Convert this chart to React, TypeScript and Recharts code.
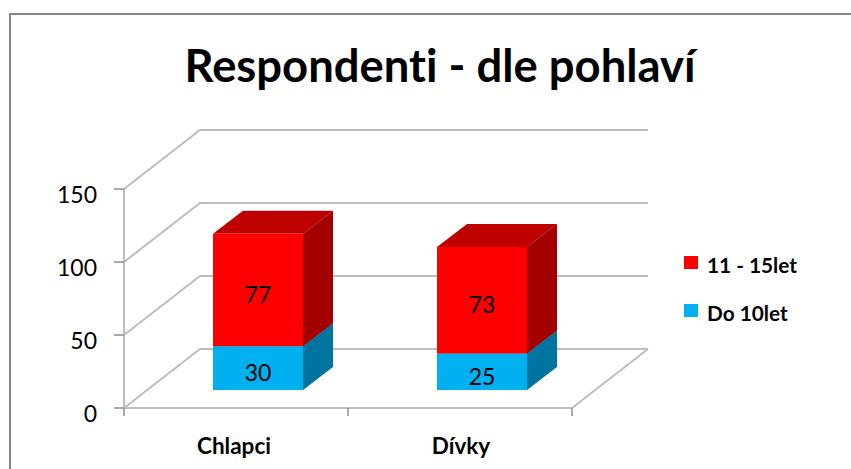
import React from 'react';
import { BarChart, Bar, XAxis, YAxis, CartesianGrid, Legend, LabelList } from 'recharts';

const categories = ['Chlapci', 'Dívky'];
const do10let = [30, 25];
const let11to15 = [77, 73];
const yTicks = [0, 50, 100, 150];
const chartTitle = 'Respondenti - dle pohlaví';
const seriesNames = { young: 'Do 10let', old: '11 - 15let' };

const rows = categories.map((name, i) => ({ name, young: do10let[i], old: let11to15[i] }));

const W = 851, H = 469;
const PLOT = { left: 124, right: 279, top: 189, bottom: 61 };
const M = { left: PLOT.left - 60, right: PLOT.right - 150, top: PLOT.top, bottom: PLOT.bottom - 30 };
const BAND = (W - PLOT.left - PLOT.right) / categories.length;
const WALL_DX = 76, WALL_DY = -59;
const BAR_DX = 22, BAR_DY = -18;
const DEPTH_DX = 30, DEPTH_DY = -23;
const GRID = '#bdbdbd';
const FONT = 'Lato, sans-serif';

const box = (fill: string, side: string, top: string) => (p: any) => {
  const x = p.x + BAR_DX, y = p.y + BAR_DY, w = p.width, h = p.height;
  return (
    <g>
      <polygon points={`${x},${y} ${x + DEPTH_DX},${y + DEPTH_DY} ${x + w + DEPTH_DX},${y + DEPTH_DY} ${x + w},${y}`} fill={top} />
      <polygon points={`${x + w},${y} ${x + w + DEPTH_DX},${y + DEPTH_DY} ${x + w + DEPTH_DX},${y + h + DEPTH_DY} ${x + w},${y + h}`} fill={side} />
      <rect x={x} y={y} width={w} height={h} fill={fill} />
    </g>
  );
};

const gridLine = (p: any) => {
  const { x1, x2, y1 } = p;
  return (
    <g key={`g-${y1}`}>
      <polyline
        points={`${x1},${y1} ${x1 + WALL_DX},${y1 + WALL_DY} ${x2 + WALL_DX},${y1 + WALL_DY}`}
        fill="none" stroke={GRID} strokeWidth={2}
      />
    </g>
  );
};

const barLabel = (p: any) => (
  <text
    x={p.x + BAR_DX + p.width / 2}
    y={p.y + BAR_DY + p.height / 2 + 4}
    textAnchor="middle" dominantBaseline="central"
    fontFamily={FONT} fontSize={23} fill="#000"
  >
    {p.value}
  </text>
);

const XTick = (p: any) => {
  const last = p.index === categories.length - 1;
  const left = p.x - BAND / 2;
  const right = p.x + BAND / 2;
  const axisY = H - PLOT.bottom;
  return (
    <g>
      <line x1={left} x2={left} y1={axisY} y2={axisY + 8} stroke="#8c8c8c" strokeWidth={1.5} />
      {last && <line x1={right} x2={right} y1={axisY} y2={axisY + 8} stroke="#8c8c8c" strokeWidth={1.5} />}
      {last && <line x1={right} y1={axisY} x2={right + WALL_DX} y2={axisY + WALL_DY} stroke={GRID} strokeWidth={2} />}
      <text x={p.x - 2 + (p.index === 0 ? 0 : 3)} y={445} textAnchor="middle" dominantBaseline="central"
        fontFamily={FONT} fontWeight={700} fontSize={22.5} fill="#000">
        {p.payload.value}
      </text>
    </g>
  );
};

const YTick = (p: any) => (
  <text x={97} y={p.y + 5} textAnchor="end" dominantBaseline="central" fontFamily={FONT} fontSize={23} fill="#000">
    {p.payload.value}
  </text>
);

const LegendBody = (p: any) => {
  const items = p.payload || [];
  return (
    <div style={{ position: 'relative', width: 150, height: 70 }}>
      {items.map((it: any, i: number) => (
        <div key={it.value} style={{ position: 'absolute', left: 0, top: i * 48, height: 14, width: 150 }}>
          <span style={{ position: 'absolute', left: 0, top: 0, width: 14, height: 13, background: it.color }} />
          <span style={{ position: 'absolute', left: 23, top: -3, fontFamily: FONT, fontWeight: 700, fontSize: 20.8, lineHeight: '24px', color: '#000', whiteSpace: 'nowrap' }}>
            {it.value}
          </span>
        </div>
      ))}
    </div>
  );
};

export default function App() {
  return (
    <div style={{ position: 'absolute', left: 0, top: 0, width: W, height: H, background: '#fff', overflow: 'hidden' }}>
      <BarChart width={W} height={H} data={rows} margin={M} barSize={90}>
        <rect x={10} y={14} width={W + 10} height={H + 10} fill="none" stroke="#868686" strokeWidth={2} />
        <text x={440} y={64} textAnchor="middle" dominantBaseline="central" fontFamily={FONT} fontWeight={700} fontSize={45.4} fill="#000" style={{ fontVariantLigatures: 'none' }}>
          {chartTitle}
        </text>
        <CartesianGrid vertical={false} horizontal={gridLine} />
        <XAxis dataKey="name" tickLine={false} stroke={GRID} axisLine={{ stroke: GRID, strokeWidth: 2 }} tick={XTick} interval={0} />
        <YAxis domain={[0, 150]} ticks={yTicks} tickSize={10} tickLine={{ stroke: '#8c8c8c', strokeWidth: 1.5 }} axisLine={{ stroke: GRID, strokeWidth: 2 }} tick={YTick} />
        <Legend
          content={LegendBody}
          layout="vertical"
          align="right"
          verticalAlign="middle"
          width={150}
          wrapperStyle={{ position: 'absolute', left: 684, top: 256, width: 150, height: 70 }}
        />
        <Bar dataKey="young" name={seriesNames.young} stackId="s" fill="#00B0F0" isAnimationActive={false} shape={box('#00B0F0', '#0074A0', '#0090C8')}>
          <LabelList dataKey="young" content={barLabel} />
        </Bar>
        <Bar dataKey="old" name={seriesNames.old} stackId="s" fill="#FF0000" isAnimationActive={false} shape={box('#FF0000', '#A50000', '#BE0000')}>
          <LabelList dataKey="old" content={barLabel} />
        </Bar>
      </BarChart>
    </div>
  );
}
